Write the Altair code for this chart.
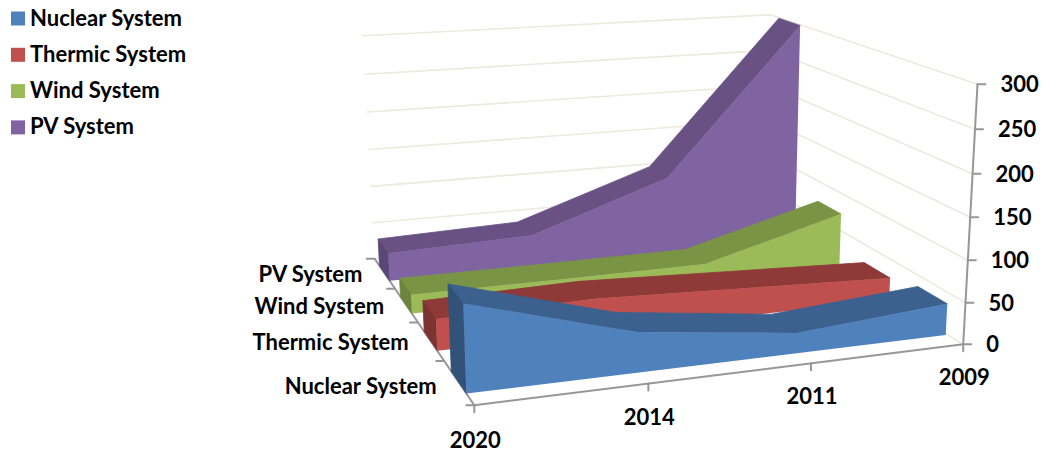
import altair as alt
import numpy as np
import pandas as pd

# Chart data
years = ["2020", "2014", "2011", "2009"]
series = ["Nuclear System", "Thermic System", "Wind System", "PV System"]
nuclear = [100, 47, 24, 38]
thermic = [38, 42, 35, 28]
wind = [24, 24, 25, 74]
pv = [37, 43, 105, 300]
value_ticks = [0, 50, 100, 150, 200, 250, 300]

# Styling
front_colors = ["#4F81BD", "#C0504D", "#9BBB59", "#8064A2"]
top_colors = ["#3C618F", "#8F3A38", "#7A9445", "#695283"]
cap_colors = ["#32527A", "#7D3331", "#6C843C", "#5B4775"]
grid_color = "#ECEADC"
axis_color = "#979797"
font = "Lato"
font_size = 22
W, H = 1043, 457
Z_MAX = 300
year_label_drop = [36, 34, 34, 34]
series_label_drop = [5, 2, 2, 2]

# Camera matrix of the oblique 3D view: (depth along time, depth along series, height) -> screen
CAMERA = np.array([
    [590.3318, 12.6444, -33.2175, 474.3375],
    [-24.7199, -68.9548, -291.6268, 405.2941],
    [0.105316, 0.299830, -0.050112, 1.0],
])


def project(t, s, v):
    h = CAMERA @ np.array([t, s, v / Z_MAX, 1.0])
    return float(h[0] / h[2]), float(h[1] / h[2])


x_scale = alt.X("x:Q", scale=alt.Scale(domain=[0, W], nice=False, zero=False), axis=None)
y_scale = alt.Y("y:Q", scale=alt.Scale(domain=[H, 0], nice=False, zero=False), axis=None)


def frame(points):
    return pd.DataFrame({"x": [p[0] for p in points], "y": [p[1] for p in points], "i": range(len(points))})


def stroke_path(points, color, width):
    return alt.Chart(frame(points)).mark_line(color=color, strokeWidth=width, strokeCap="round").encode(
        x=x_scale, y=y_scale, order="i:Q")


def face(points, color):
    # The outline is stroked in the face colour so neighbouring faces meet without a seam
    return alt.Chart(frame(list(points) + [points[0]])).mark_line(
        fill=color, stroke=color, strokeWidth=0.8, strokeJoin="round"
    ).encode(x=x_scale, y=y_scale, order="i:Q")


layers = []

# Pale gridlines on the back wall and the right-hand wall
for v in value_ticks:
    layers.append(stroke_path([project(0, 1, v), project(1, 1, v), project(1, 0, v)], grid_color, 1.6))

# Floor axes and tick marks
axis_lines = [
    [project(0, 0, 0), project(1, 0, 0)],
    [project(0, 0, 0), project(0, 1, 0)],
    [project(1, 0, 0), project(1, 0, Z_MAX)],
]
for n in range(4):
    px, py = project(n / 3, 0, 0)
    axis_lines.append([(px, py), (px, py + 7)])
for n in range(5):
    px, py = project(0, n / 4, 0)
    axis_lines.append([(px, py), (px - 8, py)])
for v in value_ticks:
    px, py = project(1, 0, v)
    axis_lines.append([(px, py), (px + 8, py)])
for line in axis_lines:
    layers.append(stroke_path(line, axis_color, 2))

# Area ribbons, back to front
legend = alt.Legend(
    title=None, orient="none", legendX=7, legendY=7.5, symbolType="square", symbolSize=196,
    symbolStrokeWidth=0, labelFont=font, labelFontWeight="bold", labelFontSize=font_size,
    labelColor="#000000", labelOffset=1, rowPadding=14.3, labelLimit=300,
)
fill = alt.Fill("series:N", scale=alt.Scale(domain=series, range=front_colors), legend=legend, sort=series)
band_values = [nuclear, thermic, wind, pv]
for k in [3, 2, 1, 0]:
    s_front = 0.0625 + 0.25 * k
    s_back = s_front + 0.125
    vals = band_values[k]
    ts = [0.995 * n / 3 for n in range(len(vals))]
    # Top surface
    ridge_front = [project(t, s_front, v) for t, v in zip(ts, vals)]
    ridge_back = [project(t, s_back, v) for t, v in zip(ts, vals)]
    layers.append(face(ridge_front + ridge_back[::-1], top_colors[k]))
    # Left end cap
    layers.append(face([project(0, s_front, vals[0]), project(0, s_back, vals[0]),
                        project(0, s_back, 0), project(0, s_front, 0)], cap_colors[k]))
    # Front face, which also carries the legend colour
    outline = ridge_front + [project(ts[-1], s_front, 0), project(0, s_front, 0)]
    outline.append(outline[0])
    front = frame(outline).assign(series=series[k])
    layers.append(alt.Chart(front).mark_line(strokeWidth=0).encode(x=x_scale, y=y_scale, order="i:Q", fill=fill))


def labels(rows, align):
    return alt.Chart(pd.DataFrame(rows)).mark_text(
        font=font, fontWeight="bold", fontSize=font_size, color="#000000", align=align, baseline="middle"
    ).encode(x=x_scale, y=y_scale, text="label:N")


# Height axis labels
value_rows = []
for v in value_ticks:
    px, py = project(1, 0, v)
    value_rows.append({"x": px + 23, "y": py + 1, "label": str(v)})
layers.append(labels(value_rows, "left"))

# Time axis labels
year_rows = []
for n, year in enumerate(years):
    px, py = project(n / 3, 0, 0)
    year_rows.append({"x": px + 1, "y": py + year_label_drop[n], "label": year})
layers.append(labels(year_rows, "center"))

# Series axis labels
series_rows = []
for k, name in enumerate(series):
    px, py = project(0, 0.125 + 0.25 * k, 0)
    series_rows.append({"x": px - 22, "y": py + series_label_drop[k], "label": name})
layers.append(labels(series_rows, "right"))

chart = alt.layer(*layers).properties(
    width=W, height=H, padding=0, autosize=alt.AutoSizeParams(type="none"), background="#FFFFFF"
).configure_view(stroke=None)

chart.save("out.html", embed_options={"renderer": "svg", "actions": False})
